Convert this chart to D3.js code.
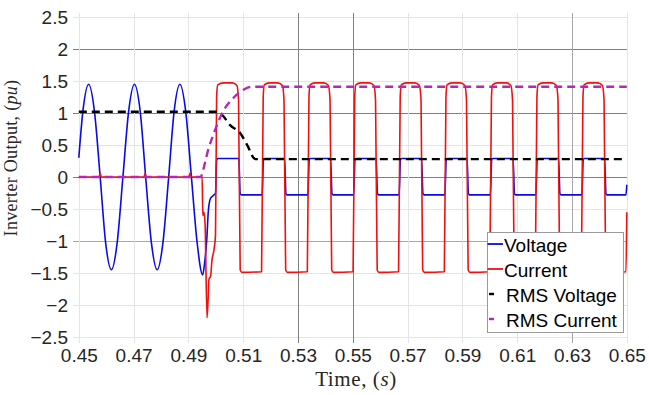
<!DOCTYPE html>
<html>
<head>
<meta charset="utf-8">
<script src="https://d3js.org/d3.v7.min.js"></script>
<style>
  body { margin: 0; background: #fff; }
  svg { display: block; }
  .tick text { font-family: "Liberation Sans", Arial, sans-serif; font-size: 19px; fill: #262626; }
  .title { font-family: "Liberation Serif", "Times New Roman", serif; fill: #262626; }
  .legend text { font-family: "Liberation Sans", Arial, sans-serif; font-size: 19px; fill: #000; }
</style>
</head>
<body>
<div id="chart"></div>
<script>
// Chart size
const width = 649;
const height = 395;

// Tick values
const timeTicks = [0.45, 0.47, 0.49, 0.51, 0.53, 0.55, 0.57, 0.59, 0.61, 0.63, 0.65];
const valueTicks = [-2.5, -2, -1.5, -1, -0.5, 0, 0.5, 1, 1.5, 2, 2.5];

// Grid line shades
const darkTimeGrid = [0.53, 0.55];
const midTimeGrid = [0.63];
const darkValueGrid = [2, 1, 0];
const midValueGrid = [-1];

// Series, [time (s), value (pu)]
const voltage = [
  [0.4500, 0.30], [0.4515, 1.03], [0.4536, 1.45], [0.4557, 1.03], [0.4578, 0.00],
  [0.4598, -1.03], [0.4619, -1.45], [0.4640, -1.03], [0.4661, 0.00], [0.4682, 1.03],
  [0.4703, 1.45], [0.4724, 1.03], [0.4744, 0.00], [0.4765, -1.03], [0.4786, -1.45],
  [0.4807, -1.03], [0.4828, 0.00], [0.4848, 1.03], [0.4869, 1.45], [0.4890, 1.03],
  [0.4911, 0.00], [0.4932, -1.03], [0.4952, -1.53], [0.4959, -1.35], [0.4967, -0.98],
  [0.4973, -0.52], [0.4981, -0.33], [0.4991, -0.29], [0.4999, -0.25],
  [0.5003, 0.26], [0.5007, 0.29], [0.5084, 0.29], [0.5089, -0.26], [0.5093, -0.28],
  [0.5169, -0.28], [0.5174, 0.27], [0.5178, 0.29], [0.5251, 0.29], [0.5256, -0.26], [0.5260, -0.28],
  [0.5336, -0.28], [0.5341, 0.27], [0.5345, 0.29], [0.5419, 0.29], [0.5424, -0.26], [0.5428, -0.28],
  [0.5503, -0.28], [0.5508, 0.27], [0.5512, 0.29], [0.5585, 0.29], [0.5590, -0.26], [0.5594, -0.28],
  [0.5669, -0.28], [0.5674, 0.27], [0.5678, 0.29], [0.5751, 0.29], [0.5756, -0.26], [0.5760, -0.28],
  [0.5836, -0.28], [0.5841, 0.27], [0.5845, 0.29], [0.5917, 0.29], [0.5922, -0.26], [0.5926, -0.28],
  [0.6002, -0.28], [0.6007, 0.27], [0.6011, 0.29], [0.6085, 0.29], [0.6090, -0.26], [0.6094, -0.28],
  [0.6168, -0.28], [0.6173, 0.27], [0.6177, 0.29], [0.6251, 0.29], [0.6256, -0.26], [0.6260, -0.28],
  [0.6336, -0.28], [0.6341, 0.27], [0.6345, 0.29], [0.6419, 0.29], [0.6424, -0.26], [0.6428, -0.28],
  [0.6497, -0.28], [0.6500, -0.12]
];

const current = [
  [0.4500, 0.00], [0.4574, 0.00], [0.4578, 0.06], [0.4582, 0.00], [0.4738, 0.00],
  [0.4742, 0.06], [0.4746, 0.00], [0.4902, 0.00], [0.4906, 0.06], [0.4910, 0.00],
  [0.4950, 0.00], [0.4952, -0.45], [0.4953, -0.60], [0.4957, -0.55], [0.4961, -0.75],
  [0.4968, -2.20], [0.4972, -1.90], [0.4975, -1.60], [0.4981, -1.55], [0.4986, -1.30],
  [0.4993, -1.15], [0.4999, -0.90],
  [0.5003, 1.25], [0.5007, 1.44], [0.5028, 1.47], [0.5060, 1.47], [0.5077, 1.43], [0.5083, 1.20], [0.5089, -1.45], [0.5095, -1.49],
  [0.5167, -1.48], [0.5173, 1.25], [0.5177, 1.44], [0.5195, 1.47], [0.5226, 1.47], [0.5243, 1.43], [0.5249, 1.20], [0.5255, -1.45], [0.5261, -1.49],
  [0.5334, -1.48], [0.5340, 1.25], [0.5344, 1.44], [0.5362, 1.47], [0.5394, 1.47], [0.5411, 1.43], [0.5417, 1.20], [0.5423, -1.45], [0.5429, -1.49],
  [0.5501, -1.48], [0.5507, 1.25], [0.5511, 1.44], [0.5529, 1.47], [0.5560, 1.47], [0.5577, 1.43], [0.5583, 1.20], [0.5589, -1.45], [0.5595, -1.49],
  [0.5667, -1.48], [0.5673, 1.25], [0.5677, 1.44], [0.5695, 1.47], [0.5726, 1.47], [0.5743, 1.43], [0.5749, 1.20], [0.5755, -1.45], [0.5761, -1.49],
  [0.5834, -1.48], [0.5840, 1.25], [0.5844, 1.44], [0.5862, 1.47], [0.5892, 1.47], [0.5909, 1.43], [0.5915, 1.20], [0.5921, -1.45], [0.5927, -1.49],
  [0.6000, -1.48], [0.6006, 1.25], [0.6010, 1.44], [0.6028, 1.47], [0.6060, 1.47], [0.6077, 1.43], [0.6083, 1.20], [0.6089, -1.45], [0.6095, -1.49],
  [0.6166, -1.48], [0.6172, 1.25], [0.6176, 1.44], [0.6194, 1.47], [0.6226, 1.47], [0.6243, 1.43], [0.6249, 1.20], [0.6255, -1.45], [0.6261, -1.49],
  [0.6334, -1.48], [0.6340, 1.25], [0.6344, 1.44], [0.6362, 1.47], [0.6394, 1.47], [0.6411, 1.43], [0.6417, 1.20], [0.6423, -1.45], [0.6429, -1.49],
  [0.6497, -1.48], [0.6500, -0.55]
];

const rmsVoltage = [
  [0.4500, 1.02], [0.5004, 1.02], [0.5023, 0.97], [0.5052, 0.81], [0.5088, 0.69],
  [0.5118, 0.47], [0.5136, 0.31], [0.5145, 0.28], [0.6500, 0.28]
];

const rmsCurrent = [
  [0.4500, 0.00], [0.4946, 0.00], [0.4950, 0.05], [0.4972, 0.42], [0.4997, 0.73],
  [0.5026, 1.02], [0.5063, 1.23], [0.5099, 1.36], [0.5132, 1.41], [0.6500, 1.41]
];

const seriesNames = ['Voltage', 'Current', 'RMS Voltage', 'RMS Current'];
const seriesData = [voltage, current, rmsVoltage, rmsCurrent];
const seriesColors = ['#0a0ae6', '#ee1111', '#000000', '#b428b4'];
const seriesDash = [null, null, '8,5', '8,5'];
const seriesWidth = [1.6, 1.6, 2.4, 2.4];

const svg = d3.select('#chart').append('svg')
  .attr('width', width)
  .attr('height', height);

const x = d3.scaleLinear().domain([0.45, 0.65]).range([78.8, 626.8]);
const y = d3.scaleLinear().domain([-2.5, 2.5]).range([337, 17]);

// Grid
const gridShade = (v, dark, mid) =>
  dark.some(d => Math.abs(d - v) < 1e-9) ? '#7f7f7f'
  : mid.some(d => Math.abs(d - v) < 1e-9) ? '#a8a8a8' : '#e4e4e4';

const grid = svg.append('g');
grid.selectAll('.hgrid')
  .data(valueTicks)
  .enter().append('line')
  .attr('x1', 73).attr('x2', 628)
  .attr('y1', d => Math.round(y(d)) + 0.5)
  .attr('y2', d => Math.round(y(d)) + 0.5)
  .attr('stroke', d => gridShade(d, darkValueGrid, midValueGrid))
  .attr('stroke-width', 1);
grid.selectAll('.vgrid')
  .data(timeTicks)
  .enter().append('line')
  .attr('y1', 13).attr('y2', 343)
  .attr('x1', d => Math.round(x(d)) + 0.5)
  .attr('x2', d => Math.round(x(d)) + 0.5)
  .attr('stroke', d => gridShade(d, darkTimeGrid, midTimeGrid))
  .attr('stroke-width', 1);

// Axes (labels only)
const xAxis = svg.append('g')
  .attr('transform', 'translate(0,345)')
  .call(d3.axisBottom(x).tickValues(timeTicks).tickSize(0).tickFormat(d3.format('.2f')));
xAxis.select('.domain').remove();

const yAxis = svg.append('g')
  .attr('transform', 'translate(71,0)')
  .call(d3.axisLeft(y).tickValues(valueTicks).tickSize(0).tickFormat(d => d3.format('')(d)));
yAxis.select('.domain').remove();

// Lines
const line = d3.line()
  .x(d => x(d[0]))
  .y(d => y(d[1]))
  .curve(d3.curveMonotoneX);

svg.append('g').selectAll('path')
  .data(seriesData)
  .enter().append('path')
  .attr('d', line)
  .attr('fill', 'none')
  .attr('stroke', (d, i) => seriesColors[i])
  .attr('stroke-width', (d, i) => seriesWidth[i])
  .attr('stroke-dasharray', (d, i) => seriesDash[i])
  .attr('stroke-linejoin', 'round');

// Axis titles
const xTitle = svg.append('text')
  .attr('class', 'title')
  .attr('x', 356)
  .attr('y', 386)
  .attr('font-size', 21)
  .attr('letter-spacing', 0.6)
  .attr('text-anchor', 'middle');
xTitle.append('tspan').text('Time, (');
xTitle.append('tspan').attr('font-style', 'italic').text('s');
xTitle.append('tspan').text(')');

const yTitle = svg.append('text')
  .attr('class', 'title')
  .attr('transform', 'translate(17,158) rotate(-90)')
  .attr('font-size', 18)
  .attr('letter-spacing', 0.3)
  .attr('text-anchor', 'middle');
yTitle.append('tspan').text('Inverter Output, (');
yTitle.append('tspan').attr('font-style', 'italic').text('pu');
yTitle.append('tspan').text(')');

// Legend
const legend = svg.append('g').attr('class', 'legend');
legend.append('rect')
  .attr('x', 487.5).attr('y', 232.5)
  .attr('width', 136).attr('height', 100)
  .attr('fill', '#fff')
  .attr('stroke', '#9a9a9a');

const legendRows = [244, 269, 294, 319];
seriesNames.forEach((name, i) => {
  const ly = legendRows[i];
  legend.append('line')
    .attr('x1', seriesDash[i] ? 489 : 487.5)
    .attr('x2', seriesDash[i] ? 494 : 503)
    .attr('y1', ly).attr('y2', ly)
    .attr('stroke', seriesColors[i])
    .attr('stroke-width', seriesDash[i] ? 2.4 : 1.8);
  legend.append('text')
    .attr('x', seriesDash[i] ? 506 : 504)
    .attr('y', ly + 8)
    .text(name);
});
</script>
</body>
</html>
